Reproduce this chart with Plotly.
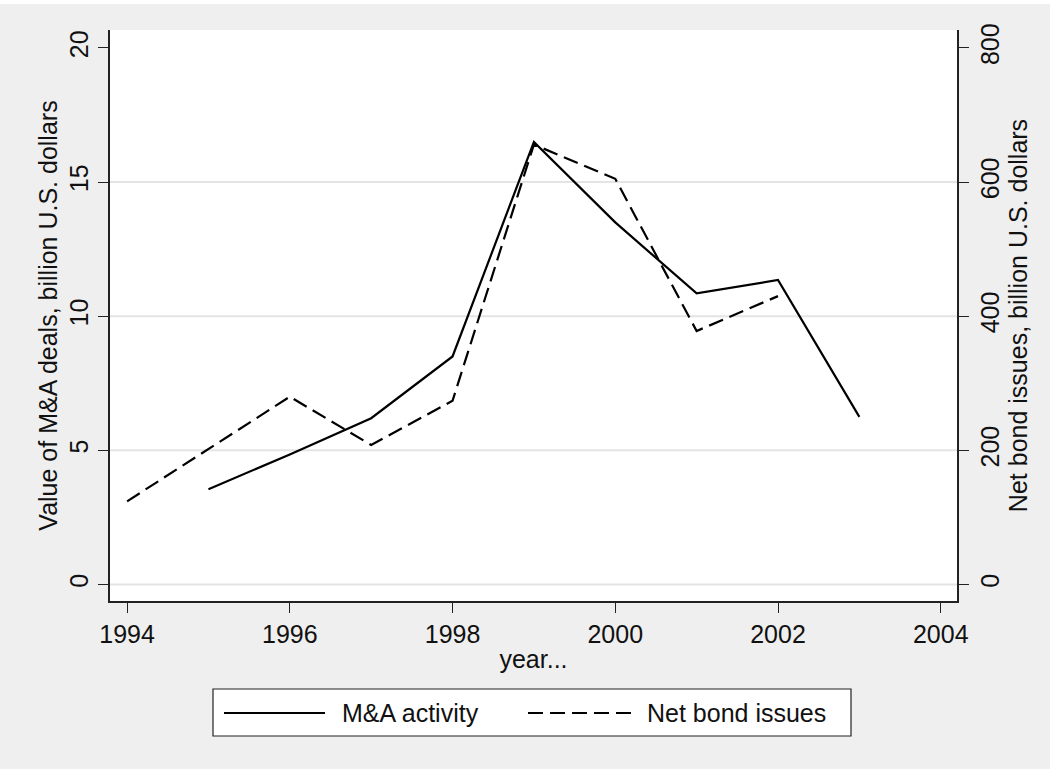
import plotly.graph_objects as go

# ---- data ----
ma_years = [1995, 1996, 1997, 1998, 1999, 2000, 2001, 2002, 2003]
ma_values = [3.55, 4.85, 6.2, 8.5, 16.5, 13.5, 10.85, 11.35, 6.25]

bond_years = [1994, 1996, 1997, 1998, 1999, 2000, 2001, 2002]
bond_values = [124, 280, 208, 274, 656, 605, 378, 430]

x_ticks = [1994, 1996, 1998, 2000, 2002, 2004]
left_ticks = [0, 5, 10, 15, 20]
right_ticks = [0, 200, 400, 600, 800]
grid_vals = [0, 5, 10, 15]

ma_label = "M&A activity"
bond_label = "Net bond issues"
x_title = "year..."
left_title = "Value of M&A deals, billion U.S. dollars"
right_title = "Net bond issues, billion U.S. dollars"

FONT = "Liberation Sans, Arial, sans-serif"
FS = 25
W, H = 1050, 769
ML, MR, MT, MB = 110, 93, 30, 168
PW, PH = W - ML - MR, H - MT - MB

def px(x):
    return (x - ML) / PW

def py(y):
    return (H - MB - y) / PH

fig = go.Figure()
fig.add_trace(go.Scatter(x=ma_years, y=ma_values, mode="lines", name=ma_label,
                         line=dict(color="black", width=2.2), yaxis="y", showlegend=False))
fig.add_trace(go.Scatter(x=bond_years, y=bond_values, mode="lines", name=bond_label,
                         line=dict(color="black", width=2.2, dash="15px,7px"),
                         yaxis="y2", showlegend=False))

left_range = [-0.615, 20.67]
right_range = [v * 40 for v in left_range]

axis_common = dict(showline=True, linecolor="#222", linewidth=1.5, ticks="outside",
                   ticklen=10, tickwidth=1.2, tickcolor="#222",
                   tickfont=dict(family=FONT, size=FS, color="#111"), zeroline=False,
                   automargin=False)

shapes = [
    # white strip at very top
    dict(type="rect", xref="paper", yref="paper", x0=px(0), x1=px(W), y0=py(4), y1=py(0),
         fillcolor="white", line=dict(width=0), layer="below"),
]
# horizontal grid lines
for g in grid_vals:
    shapes.append(dict(type="line", xref="paper", yref="y", x0=0, x1=1, y0=g, y1=g,
                       line=dict(color="#e4e4e4", width=2), layer="below"))
# legend box and samples
shapes += [
    dict(type="rect", xref="paper", yref="paper", x0=px(213), x1=px(851), y0=py(736), y1=py(689),
         fillcolor="white", line=dict(color="#222", width=1.2)),
    dict(type="line", xref="paper", yref="paper", x0=px(224), x1=px(325), y0=py(713), y1=py(713),
         line=dict(color="black", width=2.2)),
    dict(type="line", xref="paper", yref="paper", x0=px(528), x1=px(632), y0=py(713), y1=py(713),
         line=dict(color="black", width=2.2, dash="15px,7px")),
]

annotations = [
    dict(text=ma_label, xref="paper", yref="paper", x=px(340), y=py(713), xanchor="left",
         yanchor="middle", showarrow=False, font=dict(family=FONT, size=FS, color="#111")),
    dict(text=bond_label, xref="paper", yref="paper", x=px(645), y=py(713), xanchor="left",
         yanchor="middle", showarrow=False, font=dict(family=FONT, size=FS, color="#111")),
]

fig.update_layout(
    width=W, height=H,
    margin=dict(l=ML, r=MR, t=MT, b=MB, autoexpand=False),
    paper_bgcolor="#efefef", plot_bgcolor="white",
    font=dict(family=FONT, size=FS, color="#111"),
    showlegend=False,
    hovermode=False,
    xaxis=dict(range=[1993.79, 2004.2], tickvals=x_ticks, showgrid=False,
               title=dict(text=x_title, font=dict(family=FONT, size=FS, color="#111"), standoff=4),
               **axis_common),
    yaxis=dict(range=left_range, tickvals=left_ticks, tickangle=-90, showgrid=False,
               title=dict(text=left_title, font=dict(family=FONT, size=FS, color="#111"), standoff=1),
               **axis_common),
    yaxis2=dict(range=right_range, tickvals=right_ticks, tickangle=-90, showgrid=False,
                overlaying="y", side="right",
                title=dict(text=right_title, font=dict(family=FONT, size=FS, color="#111"), standoff=1),
                **axis_common),
    shapes=shapes,
    annotations=annotations,
)

fig.write_html("out.html",
               config={"displayModeBar": False},
               post_script="document.body.style.margin='0px';document.body.style.padding='0px';")
